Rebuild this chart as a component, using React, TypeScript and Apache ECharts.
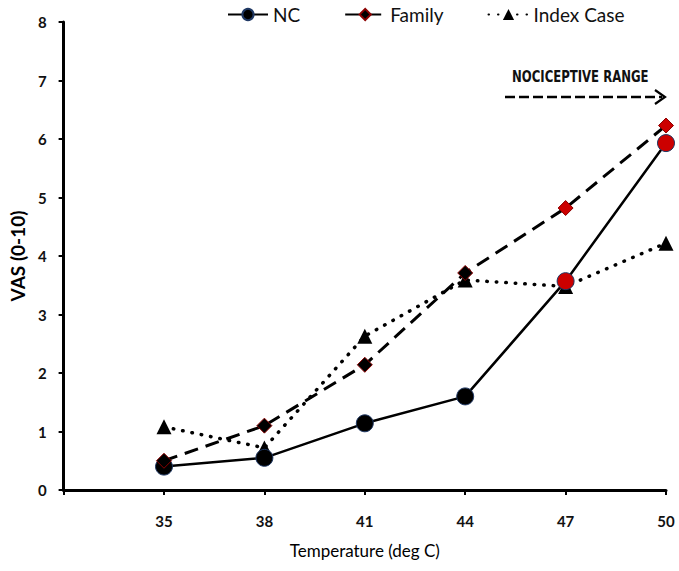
import React, { useEffect, useRef } from "react";
import * as echarts from "echarts";

const categories = ["", "35", "38", "41", "44", "47", "50"];
const ncValues = [null, 0.4, 0.55, 1.14, 1.6, 3.57, 5.93];
const familyValues = [null, 0.5, 1.1, 2.14, 3.71, 4.82, 6.23];
const indexValues = [null, 1.08, 0.72, 2.63, 3.59, 3.48, 4.22];
const redFromIndex = 5; // points at 47 and 50 drawn in red for NC and Family
const yTicks = [0, 1, 2, 3, 4, 5, 6, 7, 8];

const FONT = "Lato, 'Open Sans', sans-serif";

export default function App() {
  const ref = useRef<HTMLDivElement>(null);
  useEffect(() => {
    if (!ref.current) return;
    const chart = echarts.init(ref.current, undefined, { renderer: "svg" });

    const mk = (vals: (number | null)[], baseColor: string, border: string) =>
      vals.map((v, i) =>
        v === null
          ? null
          : i >= redFromIndex
          ? { value: v, itemStyle: { color: "#cc0000", borderColor: border, borderWidth: 1 } }
          : { value: v, itemStyle: { color: baseColor, borderColor: border, borderWidth: 1 } }
      );

    chart.setOption({
      animation: false,
      backgroundColor: "#ffffff",
      textStyle: { fontFamily: FONT },
      grid: { left: 63, right: 13, top: 22, bottom: 81, containLabel: false },
      legend: {
        top: 0,
        left: 222,
        itemWidth: 40,
        itemHeight: 14,
        itemGap: 44,
        textStyle: { fontSize: 19, color: "#111", fontFamily: FONT },
        data: ["NC", "Family", "Index Case"],
      },
      xAxis: {
        type: "category",
        data: categories,
        boundaryGap: false,
        name: "Temperature (deg C)",
        nameLocation: "middle",
        nameGap: 52,
        nameTextStyle: { fontSize: 17, fontWeight: "normal", color: "#000", fontFamily: FONT },
        axisLine: { lineStyle: { color: "#000", width: 3 } },
        axisTick: { show: true, length: 5, lineStyle: { color: "#000", width: 2 }, alignWithLabel: true },
        axisLabel: { fontSize: 15, fontWeight: "bold", color: "#111", margin: 23, fontFamily: FONT },
        splitLine: { show: false },
      },
      yAxis: {
        type: "value",
        min: yTicks[0],
        max: yTicks[yTicks.length - 1],
        interval: 1,
        name: "VAS (0-10)",
        nameLocation: "middle",
        nameGap: 36,
        nameRotate: 90,
        nameTextStyle: { fontSize: 19, fontWeight: "bold", color: "#000", fontFamily: FONT },
        axisLine: { show: true, lineStyle: { color: "#000", width: 3 } },
        axisTick: { show: true, length: 5, lineStyle: { color: "#000", width: 2 } },
        axisLabel: { fontSize: 15, fontWeight: "bold", color: "#111", margin: 17, fontFamily: FONT },
        splitLine: { show: false },
      },
      series: [
        {
          name: "NC",
          type: "line",
          data: mk(ncValues, "#000000", "#1f3864"),
          symbol: "circle",
          symbolSize: 17,
          lineStyle: { color: "#000", width: 2.5 },
          itemStyle: { color: "#000", borderColor: "#1f3864", borderWidth: 1 },
          z: 3,
        },
        {
          name: "Family",
          type: "line",
          data: mk(familyValues, "#000000", "#8b0000"),
          symbol: "diamond",
          symbolSize: 15,
          lineStyle: { color: "#000", width: 3, type: [14, 8] },
          itemStyle: { color: "#000", borderColor: "#8b0000", borderWidth: 1 },
          z: 4,
        },
        {
          name: "Index Case",
          type: "line",
          data: indexValues,
          symbol: "triangle",
          symbolSize: 15,
          lineStyle: { color: "#000", width: 3.5, type: [0.5, 9], cap: "round" },
          itemStyle: { color: "#000" },
          z: 2,
        },
      ],
      graphic: [
        {
          type: "text",
          x: 512,
          y: 68,
          scaleY: 1.25,
          style: {
            text: "NOCICEPTIVE RANGE",
            fontSize: 13,
            fontWeight: "bold",
            fontFamily: "'Liberation Sans Narrow', 'DejaVu Sans Condensed', 'Liberation Sans', sans-serif",
            fill: "#111",
            verticalAlign: "top",
          },
        },
        {
          type: "line",
          shape: { x1: 505, y1: 97, x2: 662, y2: 97 },
          style: { stroke: "#000", lineWidth: 2.5, lineDash: [10, 4] },
        },
        {
          type: "polyline",
          shape: { points: [[655, 90], [665, 97], [655, 104]] },
          style: { stroke: "#000", lineWidth: 2.2, fill: "none" },
        },
      ],
    });
    return () => chart.dispose();
  }, []);
  return (
    <div
      ref={ref}
      style={{ position: "absolute", left: 0, top: 0, width: 679, height: 571 }}
    />
  );
}
